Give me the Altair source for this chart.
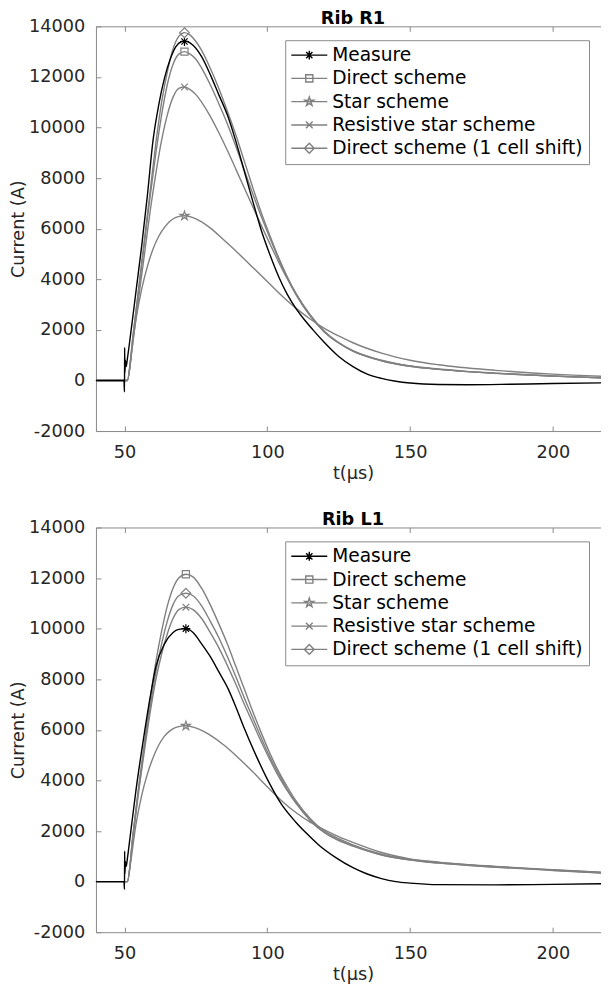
import math
import altair as alt
import pandas as pd

# ---------------- data ----------------
series_names = ["Measure", "Direct scheme", "Star scheme",
                "Resistive star scheme", "Direct scheme (1 cell shift)"]

# Panel "Rib R1"
r1_meas_t = [40, 45, 49.8, 50.0, 50.05, 50.15, 50.3, 50.6, 51, 52, 54, 56, 58, 60, 62, 64, 66, 68, 70, 71, 72,
             74, 77, 80, 83, 86, 89, 92, 95, 98, 101, 104, 107, 110, 113, 116, 120, 125, 130, 135, 140, 145,
             150, 160, 170, 185, 200, 220]
r1_meas_v = [0, 0, 0, -450, 1300, 300, 800, 550, 850, 1700, 3500, 5300, 7300, 9500, 10900, 11950, 12700,
             13200, 13400, 13420, 13400, 13250, 12800, 12100, 11300, 10500, 9450, 8250, 7050, 5900, 4950,
             4100, 3400, 2850, 2400, 2000, 1500, 950, 550, 250, 80, -30, -100, -160, -170, -150, -120, -90]

r1_sim_t = [40, 51, 53, 55, 57, 59, 61, 63, 65, 67, 69, 71, 73, 75, 77, 80, 83, 86, 89, 92, 95, 98, 101,
            104, 107, 110, 115, 120, 125, 130, 140, 150, 160, 170, 180, 200, 220]
r1_direct_v = [0, 0, 1750, 3600, 5450, 7300, 9000, 10500, 11700, 12500, 12900, 13000, 12900, 12700, 12350,
               11700, 10950, 10150, 9250, 8300, 7350, 6450, 5600, 4800, 4050, 3400, 2550, 1920, 1480, 1160,
               780, 560, 440, 350, 280, 170, 90]
r1_resist_v = [0, 0, 1600, 3300, 5000, 6700, 8200, 9500, 10500, 11200, 11550, 11600, 11500, 11300, 11000,
               10450, 9800, 9100, 8350, 7600, 6850, 6100, 5380, 4680, 4020, 3420, 2560, 1920, 1480, 1160,
               780, 560, 440, 350, 280, 170, 90]
r1_shift_v = [0, 0, 1800, 3700, 5600, 7500, 9400, 11000, 12200, 13100, 13600, 13750, 13650, 13400, 13050,
              12350, 11550, 10650, 9700, 8650, 7600, 6600, 5700, 4850, 4100, 3450, 2600, 1950, 1500, 1180,
              800, 570, 450, 360, 290, 175, 95]
r1_star_t = [40, 51, 52, 54, 56, 58, 60, 62, 64, 66, 68, 71, 74, 77, 80, 85, 90, 95, 100, 105, 110, 115,
             120, 125, 130, 140, 150, 160, 180, 200, 220]
r1_star_v = [0, 0, 700, 2400, 3600, 4500, 5200, 5700, 6050, 6300, 6450, 6510, 6440, 6270, 6030, 5530,
             5010, 4460, 3910, 3360, 2860, 2430, 2060, 1760, 1490, 1080, 800, 620, 400, 250, 150]
r1_peak_t = [71, 71, 71, 71, 71]
r1_peak_v = [13400, 13000, 6510, 11600, 13750]

# Panel "Rib L1"
l1_meas_t = [40, 45, 49.8, 50.0, 50.05, 50.15, 50.3, 50.6, 51, 52, 54, 57, 59, 61, 64, 67, 69, 71.5, 74,
             77, 80, 83, 86.3, 89, 91.5, 96, 100, 105, 110, 114, 118, 124, 130, 135, 140, 145, 150, 160,
             180, 200, 220]
l1_meas_v = [0, 0, 0, -300, 1200, 300, 800, 600, 900, 1800, 3600, 5900, 7300, 8500, 9400, 9850, 9970,
             10000, 9850, 9400, 8900, 8300, 7620, 6900, 6180, 5000, 4050, 3050, 2350, 1880, 1450, 950, 550,
             300, 120, 0, -60, -120, -130, -110, -80]

l1_sim_t = [40, 51, 53, 55, 57, 59, 61, 63, 65, 67, 69, 71.5, 74, 77, 80, 83, 86, 89, 92, 95, 98, 101,
            104, 107, 110, 115, 120, 125, 130, 140, 150, 160, 180, 200, 220]
l1_direct_v = [0, 0, 1900, 3800, 5500, 7200, 8700, 9900, 10900, 11600, 12000, 12150, 12050, 11600, 10950,
               10200, 9400, 8500, 7600, 6700, 5850, 5050, 4350, 3750, 3200, 2500, 2000, 1700, 1450, 1080,
               880, 760, 590, 460, 340]
l1_resist_v = [0, 0, 1800, 3600, 5200, 6700, 8000, 9000, 9800, 10400, 10750, 10850, 10750, 10400, 9850,
               9250, 8550, 7800, 7000, 6250, 5500, 4800, 4150, 3600, 3100, 2420, 1930, 1620, 1400, 1050,
               850, 730, 570, 440, 320]
l1_shift_v = [0, 0, 1850, 3700, 5350, 6900, 8300, 9400, 10300, 10950, 11300, 11400, 11300, 10900, 10300,
              9650, 8900, 8100, 7250, 6450, 5650, 4900, 4250, 3650, 3150, 2450, 1950, 1650, 1420, 1060,
              860, 740, 580, 450, 330]
l1_star_t = [40, 51, 52, 54, 56, 58, 60, 62, 64, 66, 68, 71.5, 74, 77, 80, 85, 90, 95, 100, 105, 110, 115,
             120, 125, 130, 140, 150, 160, 180, 200, 220]
l1_star_v = [0, 0, 650, 2250, 3400, 4250, 4900, 5400, 5750, 5970, 6100, 6160, 6110, 5980, 5790, 5380,
             4880, 4330, 3750, 3200, 2730, 2350, 2050, 1780, 1550, 1150, 900, 770, 600, 470, 350]
l1_peak_t = [71.5, 71.5, 71.5, 71.5, 71.5]
l1_peak_v = [10000, 12150, 6160, 10850, 11400]

x_ticks = [50, 100, 150, 200]
y_ticks = [-2000, 0, 2000, 4000, 6000, 8000, 10000, 12000, 14000]

# ---------------- styling ----------------
FONT = "DejaVu Sans"
GRAY = "#808080"
AXIS_GRAY = "#8a8a8a"
TEXT = "#262626"
TICK_FS = 17.7
LEG_FS = 18.6
PLOT_W = 514.4
PLOT_H = 405
X_DOMAIN = [40, 220]
Y_DOMAIN = [-2000, 14000]
colors = ["#000000", GRAY, GRAY, GRAY, GRAY]


def star_path(s=1.0):
    pts = []
    for k in range(10):
        a = math.radians(-90 + 36 * k)
        r = s if k % 2 == 0 else 0.382 * s
        pts.append((r * math.cos(a), r * math.sin(a)))
    return "M" + "L".join(f"{x:.3f},{y:.3f}" for x, y in pts) + "Z"


marker_paths = [
    "M-1,0L1,0M0,-1L0,1M-0.7,-0.7L0.7,0.7M-0.7,0.7L0.7,-0.7",
    "M-0.8,-0.8L0.8,-0.8L0.8,0.8L-0.8,0.8Z",
    star_path(1.05),
    "M-0.75,-0.75L0.75,0.75M-0.75,0.75L0.75,-0.75",
    "M0,-1.1L1.1,0L0,1.1L-1.1,0Z",
]
LINE_HALF = 18 / (math.sqrt(80) / 2)
legend_paths = [f"M{-LINE_HALF:.3f},0L{LINE_HALF:.3f},0" + p for p in marker_paths]

xs = alt.Scale(domain=X_DOMAIN, nice=False, zero=False)
ys = alt.Scale(domain=Y_DOMAIN, nice=False, zero=False)


def long_df(t_lists, v_lists, names):
    rows = []
    for ts, vs, n in zip(t_lists, v_lists, names):
        for t, v in zip(ts, vs):
            rows.append({"t": t, "v": v, "series": n})
    return pd.DataFrame(rows)


def tick_axis(orient, values):
    return alt.Axis(orient=orient, offset=-5, values=values, tickSize=5, ticks=True, domain=False,
                    labels=False, title=None, grid=False, tickColor=AXIS_GRAY, tickWidth=1,
                    minExtent=0, maxExtent=5)


def panel(title, meas_t, meas_v, sim_t, direct_v, resist_v, shift_v, star_t, star_v, peak_t, peak_v):
    gray_df = long_df([sim_t, star_t, sim_t, sim_t], [direct_v, star_v, resist_v, shift_v],
                      series_names[1:])
    meas_df = pd.DataFrame({"t": meas_t, "v": meas_v, "series": "Measure"})
    peak_df = pd.DataFrame({"t": peak_t, "v": peak_v, "series": series_names})

    main_x = alt.Axis(orient="bottom", values=x_ticks, title="t(µs)", tickSize=0, grid=False,
                      domainColor=AXIS_GRAY, labelFontSize=TICK_FS, labelColor=TEXT, labelFont=FONT,
                      labelPadding=12, titlePadding=4, titleFontSize=TICK_FS, titleFontWeight="normal",
                      titleColor=TEXT, titleFont=FONT, labelFlush=False)
    main_y = alt.Axis(orient="left", values=y_ticks, title="Current (A)", tickSize=0, grid=False,
                      domainColor=AXIS_GRAY, labelFontSize=TICK_FS, labelColor=TEXT, labelFont=FONT,
                      labelPadding=11.3, titlePadding=0.7, titleFontSize=TICK_FS, titleFontWeight="normal",
                      titleColor=TEXT, titleFont=FONT, labelFlush=False,
                      labelExpr="datum.value < 0 ? '-' + abs(datum.value) : '' + datum.value")

    gray_lines = alt.Chart(gray_df).mark_line(interpolate="monotone", strokeWidth=1.4).encode(
        x=alt.X("t:Q", scale=xs, axis=main_x),
        y=alt.Y("v:Q", scale=ys, axis=main_y),
        detail="series:N",
        color=alt.value(GRAY),
    )
    meas_line = alt.Chart(meas_df).mark_line(interpolate="monotone", strokeWidth=1.4).encode(
        x=alt.X("t:Q", scale=xs, axis=None),
        y=alt.Y("v:Q", scale=ys, axis=None),
        color=alt.value("#000000"),
    )
    markers = alt.Chart(peak_df).mark_point(filled=False, size=80, strokeWidth=1.2, opacity=1).encode(
        x=alt.X("t:Q", scale=xs, axis=tick_axis("bottom", x_ticks)),
        y=alt.Y("v:Q", scale=ys, axis=tick_axis("left", y_ticks)),
        shape=alt.Shape("series:N", scale=alt.Scale(domain=series_names, range=marker_paths), legend=None),
        color=alt.Color("series:N", scale=alt.Scale(domain=series_names, range=colors), legend=None),
    )
    leg = alt.Legend(orient="none", legendX=189.4, legendY=13.9, title=None, direction="vertical",
                     columns=1, labelFontSize=LEG_FS, labelFont=FONT, labelColor="#000000",
                     labelLimit=600, padding=5.6, rowPadding=4.3, symbolOffset=9.2,
                     labelOffset=13.6, strokeColor=AXIS_GRAY, fillColor="white", symbolStrokeWidth=1.4,
                     symbolSize=80)
    legend_layer = alt.Chart(peak_df).mark_point(filled=False, size=80, strokeWidth=1.4, opacity=1).encode(
        x=alt.X("t:Q", scale=xs, axis=tick_axis("top", x_ticks)),
        y=alt.Y("v:Q", scale=ys, axis=tick_axis("right", y_ticks)),
        shape=alt.Shape("series:N", scale=alt.Scale(domain=series_names, range=legend_paths), legend=leg),
        color=alt.Color("series:N", scale=alt.Scale(domain=series_names, range=colors), legend=leg),
    ).transform_filter("datum.t < 0")
    top_frame = alt.Chart(peak_df).mark_point(opacity=0).encode(
        x=alt.X("t:Q", scale=xs, axis=alt.Axis(orient="top", domain=True, ticks=False, labels=False,
                                               title=None, grid=False, domainColor=AXIS_GRAY,
                                               minExtent=0, maxExtent=0)),
        y=alt.Y("v:Q", scale=ys, axis=None),
    ).transform_filter("datum.t < 0")

    return alt.layer(gray_lines, meas_line, markers, legend_layer, top_frame).resolve_scale(
        color="independent", shape="independent"
    ).resolve_axis(x="independent", y="independent").properties(
        width=PLOT_W, height=PLOT_H,
        title=alt.TitleParams(text=title, fontSize=TICK_FS, fontWeight="bold", font=FONT, color="#000000",
                              anchor="middle", frame="group", offset=-10),
    )


top = panel("Rib R1", r1_meas_t, r1_meas_v, r1_sim_t, r1_direct_v, r1_resist_v, r1_shift_v,
            r1_star_t, r1_star_v, r1_peak_t, r1_peak_v)
bottom = panel("Rib L1", l1_meas_t, l1_meas_v, l1_sim_t, l1_direct_v, l1_resist_v, l1_shift_v,
               l1_star_t, l1_star_v, l1_peak_t, l1_peak_v)

chart = alt.vconcat(top, bottom, spacing=27.5).resolve_scale(
    color="independent", shape="independent"
).resolve_legend(color="independent", shape="independent").properties(
    padding={"left": 1, "top": 1, "right": -12, "bottom": 0}
).configure(font=FONT).configure_view(strokeWidth=0)

chart.save("out.html", embed_options={"renderer": "svg", "actions": False})
